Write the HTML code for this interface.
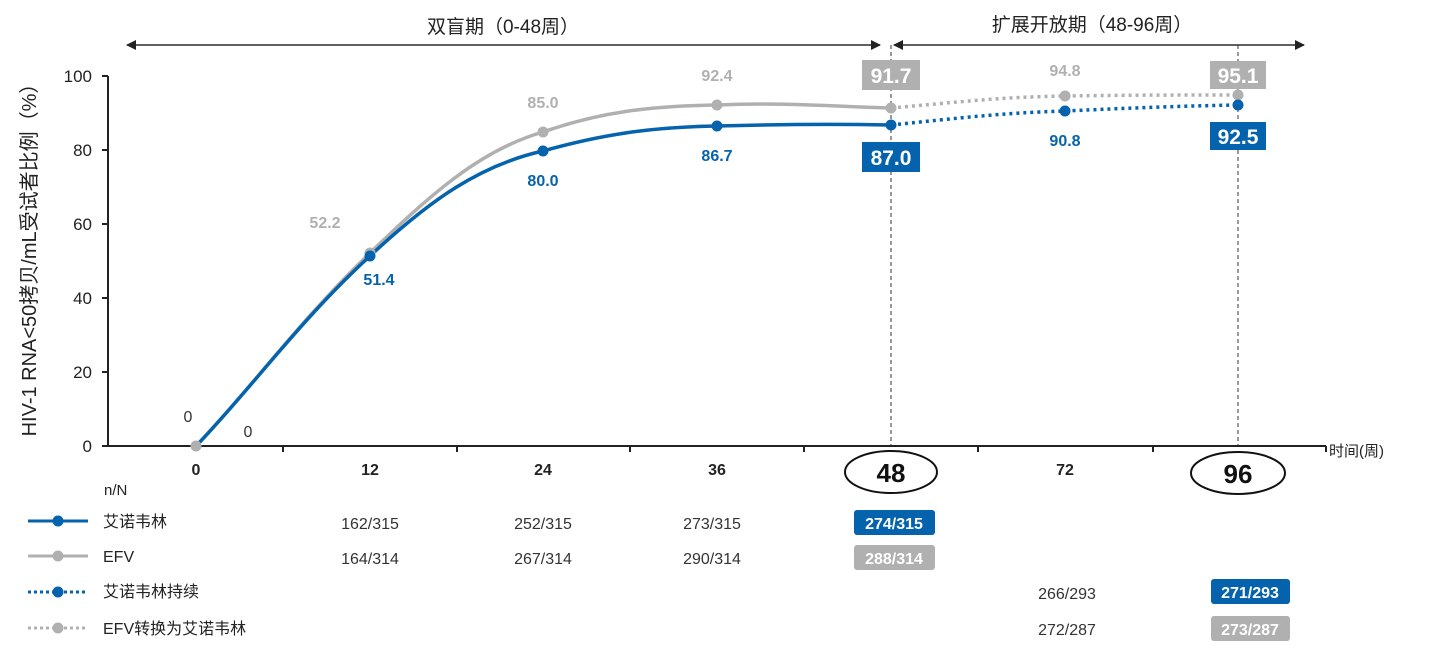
<!DOCTYPE html>
<html><head><meta charset="utf-8"><style>
body{margin:0;background:#fff;}
svg{display:block;font-family:"Liberation Sans","Noto Sans CJK SC",sans-serif;}
</style></head><body>
<svg width="1440" height="649" viewBox="0 0 1440 649">
<defs>
<marker id="ah" markerWidth="10" markerHeight="10" refX="9" refY="5" orient="auto" markerUnits="userSpaceOnUse"><path d="M0,0 L10,5 L0,10 z" fill="#222"/></marker>
</defs>
<!-- top arrows -->
<text x="503" y="33" font-size="19" text-anchor="middle" fill="#222">双盲期（0-48周）</text>
<text x="1092" y="31" font-size="19" text-anchor="middle" fill="#222">扩展开放期（48-96周）</text>
<line x1="880" y1="45" x2="127" y2="45" stroke="#222" stroke-width="1.3" marker-end="url(#ah)"/>
<line x1="127" y1="45" x2="880" y2="45" stroke="#222" stroke-width="1.3" marker-end="url(#ah)"/>
<line x1="1304" y1="45" x2="894" y2="45" stroke="#222" stroke-width="1.3" marker-end="url(#ah)"/>
<line x1="894" y1="45" x2="1304" y2="45" stroke="#222" stroke-width="1.3" marker-end="url(#ah)"/>
<!-- dashed verticals -->
<line x1="891" y1="45" x2="891" y2="446" stroke="#333" stroke-width="1" stroke-dasharray="4,3"/>
<line x1="1238" y1="45" x2="1238" y2="446" stroke="#333" stroke-width="1" stroke-dasharray="4,3"/>
<!-- axes -->
<g stroke="#222" stroke-width="2">
<line x1="108" y1="76" x2="108" y2="446"/>
<line x1="108" y1="446" x2="1326" y2="446"/>
<line x1="102" y1="76" x2="108" y2="76"/><line x1="102" y1="150" x2="108" y2="150"/><line x1="102" y1="224" x2="108" y2="224"/><line x1="102" y1="298" x2="108" y2="298"/><line x1="102" y1="372" x2="108" y2="372"/><line x1="102" y1="446" x2="108" y2="446"/>
<line x1="283" y1="446" x2="283" y2="452"/><line x1="457" y1="446" x2="457" y2="452"/><line x1="630" y1="446" x2="630" y2="452"/><line x1="804" y1="446" x2="804" y2="452"/><line x1="978" y1="446" x2="978" y2="452"/><line x1="1153" y1="446" x2="1153" y2="452"/><line x1="1326" y1="446" x2="1326" y2="452"/>
</g>
<g font-size="17" fill="#222" text-anchor="end">
<text x="92" y="82">100</text><text x="92" y="156">80</text><text x="92" y="230">60</text><text x="92" y="304">40</text><text x="92" y="378">20</text><text x="92" y="452">0</text>
</g>
<text transform="translate(36,255) rotate(-90)" font-size="20" fill="#222" text-anchor="middle">HIV-1 RNA&lt;50拷贝/mL受试者比例（%）</text>
<text x="1329" y="456" font-size="15" fill="#222">时间(周)</text>
<!-- x labels -->
<g font-size="16" font-weight="bold" fill="#222" text-anchor="middle">
<text x="196" y="475">0</text><text x="370" y="475">12</text><text x="543" y="475">24</text><text x="717" y="475">36</text><text x="1065" y="475">72</text>
</g>
<ellipse cx="891" cy="472" rx="46" ry="21" fill="none" stroke="#111" stroke-width="2"/>
<ellipse cx="1238" cy="473" rx="47" ry="21" fill="none" stroke="#111" stroke-width="2"/>
<text x="891" y="482" font-size="26" font-weight="bold" text-anchor="middle" fill="#111">48</text>
<text x="1238" y="483" font-size="26" font-weight="bold" text-anchor="middle" fill="#111">96</text>
<!-- series -->
<path d="M196,446 C250,390 300,320 370,253 C430,195 480,150 543,132 C600,112 650,106 717,105 C790,102 840,107 891,108" fill="none" stroke="#b1b0b0" stroke-width="3.5"/>
<path d="M196,446 C250,390 300,320 370,256 C430,200 480,165 543,151 C600,135 650,127 717,126 C790,124 840,124 891,125" fill="none" stroke="#0563ad" stroke-width="3.5"/>
<path d="M891,108 C960,102 1000,97 1065,96 C1130,95 1180,95 1238,95" fill="none" stroke="#b1b0b0" stroke-width="3.5" stroke-dasharray="3,4"/>
<path d="M891,125 C960,118 1000,113 1065,111 C1130,108 1180,106 1238,105" fill="none" stroke="#0563ad" stroke-width="3.5" stroke-dasharray="3,4"/>
<g fill="#b1b0b0"><circle cx="196" cy="446" r="5.5"/><circle cx="370" cy="253" r="5.5"/><circle cx="543" cy="132" r="5.5"/><circle cx="717" cy="105" r="5.5"/><circle cx="891" cy="108" r="5.5"/><circle cx="1065" cy="96" r="5.5"/><circle cx="1238" cy="95" r="5.5"/></g>
<g fill="#0563ad"><circle cx="370" cy="256" r="5.5"/><circle cx="543" cy="151" r="5.5"/><circle cx="717" cy="126" r="5.5"/><circle cx="891" cy="125" r="5.5"/><circle cx="1065" cy="111" r="5.5"/><circle cx="1238" cy="105" r="5.5"/></g>
<!-- data labels -->
<g font-size="16" font-weight="bold" fill="#b1b0b0" text-anchor="middle">
<text x="325" y="228">52.2</text><text x="543" y="108">85.0</text><text x="717" y="81">92.4</text><text x="1065" y="76">94.8</text>
</g>
<g font-size="16" font-weight="bold" fill="#0563ad" text-anchor="middle">
<text x="379" y="285">51.4</text><text x="543" y="186">80.0</text><text x="717" y="161">86.7</text><text x="1065" y="146">90.8</text>
</g>
<text x="188" y="422" font-size="16" fill="#333" text-anchor="middle">0</text>
<text x="248" y="437" font-size="16" fill="#333" text-anchor="middle">0</text>
<rect x="862" y="60" width="58" height="30" fill="#b1b0b0"/>
<text x="891" y="83" font-size="21" font-weight="bold" fill="#fff" text-anchor="middle">91.7</text>
<rect x="862" y="142" width="58" height="30" fill="#0563ad"/>
<text x="891" y="165" font-size="21" font-weight="bold" fill="#fff" text-anchor="middle">87.0</text>
<rect x="1210" y="61" width="56" height="28" fill="#b1b0b0"/>
<text x="1238" y="83" font-size="21" font-weight="bold" fill="#fff" text-anchor="middle">95.1</text>
<rect x="1210" y="122" width="56" height="28" fill="#0563ad"/>
<text x="1238" y="144" font-size="21" font-weight="bold" fill="#fff" text-anchor="middle">92.5</text>
<!-- table -->
<text x="104" y="495" font-size="15" fill="#222">n/N</text>
<line x1="28" y1="521" x2="88" y2="521" stroke="#0563ad" stroke-width="3"/><circle cx="58" cy="521" r="5.5" fill="#0563ad"/>
<line x1="28" y1="556" x2="88" y2="556" stroke="#b1b0b0" stroke-width="3"/><circle cx="58" cy="556" r="5.5" fill="#b1b0b0"/>
<line x1="28" y1="592" x2="88" y2="592" stroke="#0563ad" stroke-width="3" stroke-dasharray="3,3"/><circle cx="58" cy="592" r="5.5" fill="#0563ad"/>
<line x1="28" y1="628" x2="88" y2="628" stroke="#b1b0b0" stroke-width="3" stroke-dasharray="3,3"/><circle cx="58" cy="628" r="5.5" fill="#b1b0b0"/>
<g font-size="16" fill="#222">
<text x="103" y="527">艾诺韦林</text><text x="103" y="562">EFV</text><text x="103" y="597">艾诺韦林持续</text><text x="103" y="634">EFV转换为艾诺韦林</text>
</g>
<g font-size="16" fill="#333" text-anchor="middle">
<text x="370" y="529">162/315</text><text x="543" y="529">252/315</text><text x="712" y="529">273/315</text>
<text x="370" y="564">164/314</text><text x="543" y="564">267/314</text><text x="712" y="564">290/314</text>
<text x="1067" y="599">266/293</text><text x="1067" y="635">272/287</text>
</g>
<rect x="854" y="510" width="81" height="25" rx="3" fill="#0563ad"/>
<rect x="854" y="545" width="81" height="25" rx="3" fill="#b1b0b0"/>
<rect x="1211" y="579" width="79" height="25" rx="3" fill="#0563ad"/>
<rect x="1211" y="616" width="79" height="25" rx="3" fill="#b1b0b0"/>
<g font-size="16" font-weight="bold" fill="#fff" text-anchor="middle">
<text x="894" y="529">274/315</text><text x="894" y="564">288/314</text><text x="1250" y="598">271/293</text><text x="1250" y="635">273/287</text>
</g>
</svg>
</body></html>
